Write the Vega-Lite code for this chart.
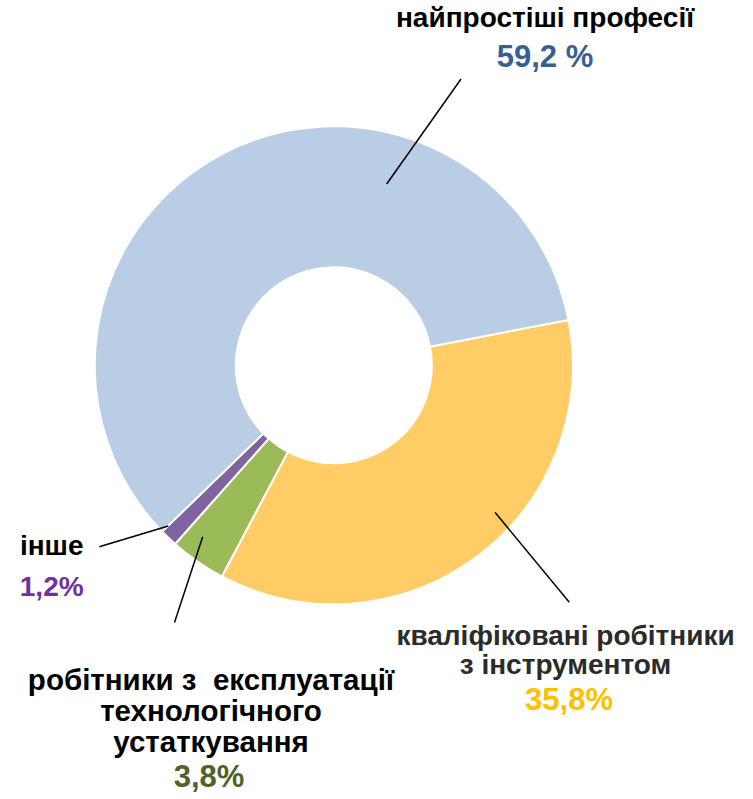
{
  "$schema": "https://vega.github.io/schema/vega-lite/v6.json",
  "autosize": {"type": "none"},
  "padding": {"left": 0, "top": 0, "right": 85.4, "bottom": 68.4},
  "width": 667.6,
  "height": 730.6,
  "background": "white",
  "config": {"view": {"stroke": null}},
  "data": {
    "values": [
      {"k": "yellow", "idx": 1, "value": 35.8, "name": "кваліфіковані робітники\nз інструментом", "pct": "35,8%"},
      {"k": "green", "idx": 2, "value": 3.8, "name": "робітники з\u00a0 експлуатації\nтехнологічного\nустаткування", "pct": "3,8%"},
      {"k": "purple", "idx": 3, "value": 1.2, "name": "інше", "pct": "1,2%"},
      {"k": "blue", "idx": 4, "value": 59.2, "name": "найпростіші професії", "pct": "59,2 %"}
    ]
  },
  "layer": [
    {
      "mark": {"type": "arc", "innerRadius": 98, "outerRadius": 239, "stroke": "white", "strokeWidth": 2},
      "encoding": {
        "theta": {"field": "value", "type": "quantitative", "stack": true, "scale": {"range": [1.3797, 7.6629]}},
        "order": {"field": "idx", "type": "quantitative"},
        "color": {
          "field": "k", "type": "nominal", "legend": null,
          "scale": {"domain": ["yellow", "green", "purple", "blue"], "range": ["#FFCC66", "#9BBB59", "#8064A2", "#B9CDE5"]}
        }
      }
    },
    {
      "transform": [{"filter": "datum.k == 'blue'"}],
      "mark": {"type": "rule", "color": "black", "strokeWidth": 1.5},
      "encoding": {
        "x": {"datum": 22.15, "type": "quantitative", "scale": {"domain": [-139.78, 139.78], "nice": false, "zero": false}, "axis": null},
        "y": {"datum": 75.92, "type": "quantitative", "scale": {"domain": [-152.97, 152.97], "nice": false, "zero": false}, "axis": null},
        "x2": {"datum": 53.27},
        "y2": {"datum": 119.89}
      }
    },
    {
      "transform": [{"filter": "datum.k == 'yellow'"}],
      "mark": {"type": "rule", "color": "black", "strokeWidth": 1.5},
      "encoding": {
        "x": {"datum": 67.5, "type": "quantitative"},
        "y": {"datum": -61.56, "type": "quantitative"},
        "x2": {"datum": 98.62},
        "y2": {"datum": -99.25}
      }
    },
    {
      "transform": [{"filter": "datum.k == 'purple'"}],
      "mark": {"type": "rule", "color": "black", "strokeWidth": 1.5},
      "encoding": {
        "x": {"datum": -69.3, "type": "quantitative"},
        "y": {"datum": -67.29, "type": "quantitative"},
        "x2": {"datum": -98.2},
        "y2": {"datum": -76.01}
      }
    },
    {
      "transform": [{"filter": "datum.k == 'green'"}],
      "mark": {"type": "rule", "color": "black", "strokeWidth": 1.5},
      "encoding": {
        "x": {"datum": -54.9, "type": "quantitative"},
        "y": {"datum": -71.78, "type": "quantitative"},
        "x2": {"datum": -66.71},
        "y2": {"datum": -107.71}
      }
    },
    {
      "transform": [{"filter": "datum.k == 'blue'"}],
      "mark": {"type": "text", "font": "Liberation Sans", "fontWeight": "bold", "fontSize": 28, "align": "center", "baseline": "alphabetic", "color": "black", "lineBreak": "\n"},
      "encoding": {
        "x": {"datum": 88.44, "type": "quantitative"},
        "y": {"datum": 141.54, "type": "quantitative"},
        "text": {"field": "name", "type": "nominal"}
      }
    },
    {
      "transform": [{"filter": "datum.k == 'blue'"}],
      "mark": {"type": "text", "font": "Liberation Sans", "fontWeight": "bold", "fontSize": 31, "align": "center", "baseline": "alphabetic", "color": "#376092"},
      "encoding": {
        "x": {"datum": 88.44, "type": "quantitative"},
        "y": {"datum": 125.04, "type": "quantitative"},
        "text": {"field": "pct", "type": "nominal"}
      }
    },
    {
      "transform": [{"filter": "datum.k == 'yellow'"}],
      "mark": {"type": "text", "font": "Liberation Sans", "fontWeight": "bold", "fontSize": 28, "align": "center", "baseline": "alphabetic", "color": "#2B2B2B", "lineBreak": "\n", "lineHeight": 28.5},
      "encoding": {
        "x": {"datum": 97.03, "type": "quantitative"},
        "y": {"datum": -117.13, "type": "quantitative"},
        "text": {"field": "name", "type": "nominal"}
      }
    },
    {
      "transform": [{"filter": "datum.k == 'yellow'"}],
      "mark": {"type": "text", "font": "Liberation Sans", "fontWeight": "bold", "fontSize": 31, "align": "center", "baseline": "alphabetic", "color": "#FFC000"},
      "encoding": {
        "x": {"datum": 98.49, "type": "quantitative"},
        "y": {"datum": -144.35, "type": "quantitative"},
        "text": {"field": "pct", "type": "nominal"}
      }
    },
    {
      "transform": [{"filter": "datum.k == 'green'"}],
      "mark": {"type": "text", "font": "Liberation Sans", "fontWeight": "bold", "fontSize": 29.5, "align": "center", "baseline": "alphabetic", "color": "black", "lineBreak": "\n", "lineHeight": 31},
      "encoding": {
        "x": {"datum": -51.42, "type": "quantitative"},
        "y": {"datum": -135.97, "type": "quantitative"},
        "text": {"field": "name", "type": "nominal"}
      }
    },
    {
      "transform": [{"filter": "datum.k == 'green'"}],
      "mark": {"type": "text", "font": "Liberation Sans", "fontWeight": "bold", "fontSize": 31, "align": "center", "baseline": "alphabetic", "color": "#4F6228"},
      "encoding": {
        "x": {"datum": -52.26, "type": "quantitative"},
        "y": {"datum": -176.47, "type": "quantitative"},
        "text": {"field": "pct", "type": "nominal"}
      }
    },
    {
      "transform": [{"filter": "datum.k == 'purple'"}],
      "mark": {"type": "text", "font": "Liberation Sans", "fontWeight": "bold", "fontSize": 28, "align": "center", "baseline": "alphabetic", "color": "black"},
      "encoding": {
        "x": {"datum": -118.13, "type": "quantitative"},
        "y": {"datum": -79.44, "type": "quantitative"},
        "text": {"field": "name", "type": "nominal"}
      }
    },
    {
      "transform": [{"filter": "datum.k == 'purple'"}],
      "mark": {"type": "text", "font": "Liberation Sans", "fontWeight": "bold", "fontSize": 28, "align": "center", "baseline": "alphabetic", "color": "#7030A0"},
      "encoding": {
        "x": {"datum": -118.13, "type": "quantitative"},
        "y": {"datum": -96.61, "type": "quantitative"},
        "text": {"field": "pct", "type": "nominal"}
      }
    }
  ]
}
